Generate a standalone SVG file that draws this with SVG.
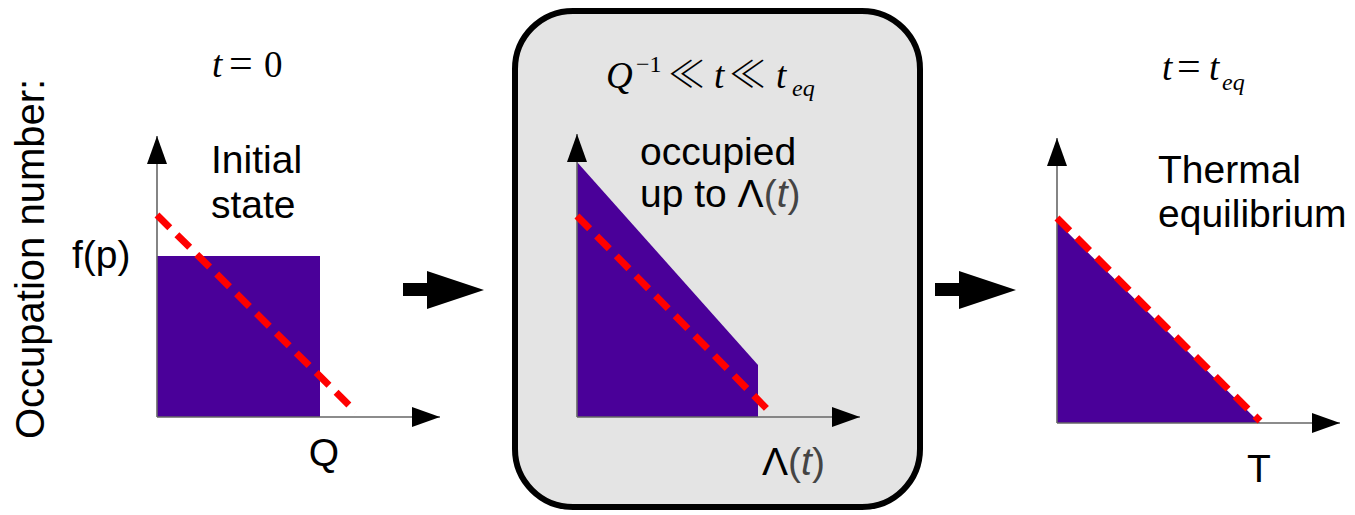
<svg xmlns="http://www.w3.org/2000/svg" width="1355" height="515" viewBox="0 0 1355 515">
<style>
.lbl{font-family:"Liberation Sans",Arial,sans-serif;font-size:39px;fill:#000}
.math{font-family:"Liberation Serif","Times New Roman",serif;font-size:37px;fill:#000}
.ll{font-family:"Noto Sans CJK JP","DejaVu Serif",serif;font-weight:300}
.it{font-style:italic}
.gray{fill:#444}
.axis{stroke:#666;stroke-width:1.6;fill:none}
.fill{fill:#4a0099}
.dash{stroke:#ff0000;stroke-width:7;stroke-dasharray:18 10;fill:none}
.head{fill:#000}
</style>
<defs>
<marker id="ah" markerUnits="userSpaceOnUse" markerWidth="28" markerHeight="20" refX="28" refY="10" orient="auto">
<path d="M0,0 L28,10 L0,20 Z" fill="#000"/>
</marker>
</defs>
<rect width="1355" height="515" fill="#fff"/>

<g id="ylabel">
<text class="lbl" transform="translate(44,439) rotate(-90)" style="font-size:40px">Occupation number:</text>
</g>

<g id="panel-left">
<text class="math" y="77"><tspan class="it" x="212">t</tspan><tspan x="229" font-size="42">=</tspan><tspan x="264">0</tspan></text>
<rect class="fill" x="157" y="256" width="163" height="161"/>
<line class="axis" x1="157" y1="417" x2="157" y2="136" marker-end="url(#ah)"/>
<line class="axis" x1="157" y1="417" x2="440" y2="417" marker-end="url(#ah)"/>
<line class="dash" x1="157" y1="215" x2="356" y2="412"/>
<text class="lbl" x="211" y="173">Initial</text>
<text class="lbl" x="211" y="218">state</text>
<text class="lbl" x="72" y="268">f(p)</text>
<text class="lbl" x="324" y="466" text-anchor="middle">Q</text>
</g>

<g id="panel-middle">
<rect x="515" y="11" width="405" height="496" rx="58" ry="58" fill="#e4e4e4" stroke="#000" stroke-width="6"/>
<text class="math"><tspan class="it" x="606" y="88">Q</tspan><tspan x="636" y="72" font-size="24">−1</tspan><tspan class="ll" x="668" y="88">≪</tspan><tspan class="it" x="714" y="88">t</tspan><tspan class="ll" x="729" y="88">≪</tspan><tspan class="it" x="776" y="88">t</tspan><tspan class="it" x="792" y="96" font-size="24">eq</tspan></text>
<polygon class="fill" points="577,162 758,365 758,417 577,417"/>
<line class="axis" x1="577" y1="417" x2="577" y2="134" marker-end="url(#ah)"/>
<line class="axis" x1="577" y1="417" x2="860" y2="417" marker-end="url(#ah)"/>
<line class="dash" x1="577" y1="216" x2="768" y2="410"/>
<text class="lbl" x="640" y="165">occupied</text>
<text class="lbl" x="640" y="207">up to Λ<tspan class="gray">(<tspan class="it">t</tspan>)</tspan></text>
<text class="lbl" x="762" y="475">Λ<tspan class="gray">(<tspan class="it">t</tspan>)</tspan></text>
</g>

<g id="panel-right">
<text class="math"><tspan class="it" x="1162" y="80">t</tspan><tspan x="1177" y="80" font-size="42">=</tspan><tspan class="it" x="1209" y="80">t</tspan><tspan class="it" x="1222" y="90" font-size="24">eq</tspan></text>
<polygon class="fill" points="1057,222 1260,423 1057,423"/>
<line class="axis" x1="1057" y1="423" x2="1057" y2="138" marker-end="url(#ah)"/>
<line class="axis" x1="1057" y1="423" x2="1340" y2="423" marker-end="url(#ah)"/>
<line class="dash" x1="1057" y1="218" x2="1260" y2="421"/>
<text class="lbl" x="1158" y="183">Thermal</text>
<text class="lbl" x="1158" y="227">equilibrium</text>
<text class="lbl" x="1259" y="482" text-anchor="middle">T</text>
</g>

<g id="connectors">
<polygon class="head" points="403,283 427,283 427,271 484,290 427,309 427,296 403,296"/>
<polygon class="head" points="935,283 959,283 959,271 1016,290 959,309 959,296 935,296"/>
</g>
</svg>
